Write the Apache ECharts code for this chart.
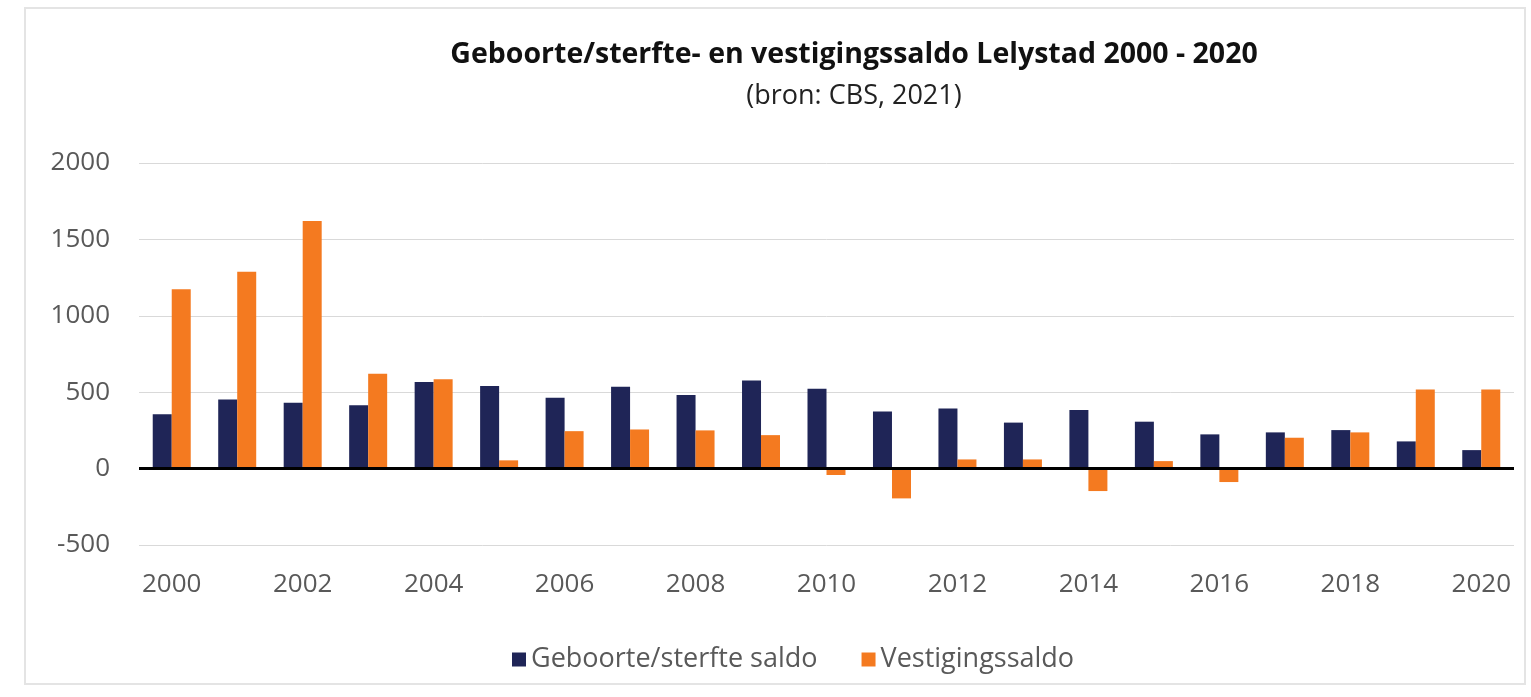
<!DOCTYPE html>
<html>
<head>
<meta charset="utf-8">
<script src="https://cdn.jsdelivr.net/npm/echarts@6/dist/echarts.min.js"></script>
<style>
html,body{margin:0;padding:0;background:#fff;}
#chart{width:1531px;height:697px;}
</style>
</head>
<body>
<div id="chart"></div>
<script>
const years = ['2000','2001','2002','2003','2004','2005','2006','2007','2008','2009','2010','2011','2012','2013','2014','2015','2016','2017','2018','2019','2020'];
const geboorteSterfte = [355, 453, 431, 414, 566, 540, 463, 535, 481, 577, 522, 374, 394, 301, 383, 307, 224, 237, 252, 178, 121];
const vestiging = [1173, 1289, 1621, 621, 584, 54, 245, 256, 250, 219, -42, -195, 60, 60, -147, 49, -88, 202, 237, 518, 518];
const seriesNames = ['Geboorte/sterfte saldo', 'Vestigingssaldo'];
const titleText = 'Geboorte/sterfte- en vestigingssaldo Lelystad 2000 - 2020';
const subtitleText = '(bron: CBS, 2021)';

const FONT = '"Open Sans", Lato, sans-serif';
const chart = echarts.init(document.getElementById('chart'), null, {renderer: 'canvas'});
chart.setOption({
  backgroundColor: '#ffffff',
  animation: false,
  textStyle: {fontFamily: FONT},
  graphic: [{
    type: 'rect',
    shape: {x: 25, y: 8, width: 1500, height: 676},
    style: {fill: 'none', stroke: '#e4e4e4', lineWidth: 2},
    silent: true
  }],
  title: {
    text: titleText,
    subtext: subtitleText,
    left: 849,
    textAlign: 'center',
    top: 35,
    itemGap: 14,
    textStyle: {fontFamily: FONT, fontSize: 28.5, fontWeight: 'bold', color: '#111111'},
    subtextStyle: {fontFamily: FONT, fontSize: 27, color: '#222222'}
  },
  legend: {
    data: seriesNames,
    left: 507,
    top: 641,
    itemWidth: 14,
    itemHeight: 14,
    itemGap: 44,
    icon: 'rect',
    textStyle: {fontFamily: FONT, fontSize: 27, color: '#595959'}
  },
  grid: {left: 139, right: 17, top: 163, bottom: 152, containLabel: false},
  xAxis: {
    type: 'category',
    data: years,
    axisLine: {show: false, onZero: false},
    axisTick: {show: false},
    axisLabel: {interval: 1, fontSize: 26, color: '#595959', margin: 27, fontFamily: FONT},
    splitLine: {show: false}
  },
  yAxis: {
    type: 'value',
    min: -500,
    max: 2000,
    interval: 500,
    axisLine: {show: false},
    axisTick: {show: false},
    axisLabel: {fontSize: 26, color: '#595959', margin: 29, fontFamily: FONT, formatter: function (v) { return String(v); }},
    splitLine: {lineStyle: {color: '#d9d9d9', width: 1}}
  },
  series: [
    {
      name: seriesNames[0],
      type: 'bar',
      data: geboorteSterfte,
      barWidth: 19,
      barGap: '0%',
      itemStyle: {color: '#1f2557'},
      markLine: {
        silent: true,
        symbol: 'none',
        label: {show: false},
        lineStyle: {color: '#000000', width: 3, type: 'solid'},
        data: [{yAxis: 0}]
      }
    },
    {
      name: seriesNames[1],
      type: 'bar',
      data: vestiging,
      barWidth: 19,
      barGap: '0%',
      itemStyle: {color: '#f47a20'}
    }
  ]
});
</script>
</body>
</html>
